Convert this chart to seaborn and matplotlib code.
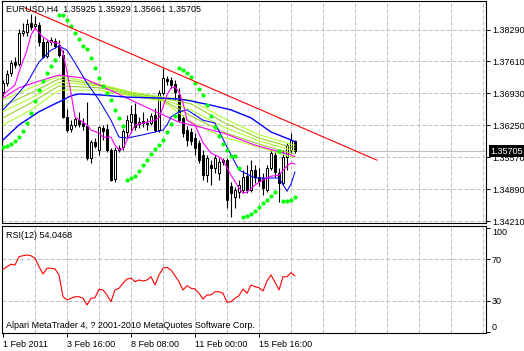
import matplotlib
matplotlib.use("Agg")
import matplotlib.pyplot as plt
import matplotlib.transforms as mtransforms
import numpy as np
import seaborn as sns

# ---------------- data ----------------
symbol_title = "EURUSD,H4  1.35925 1.35929 1.35661 1.35705"
rsi_title = "RSI(12) 54.0468"
footer = "Alpari MetaTrader 4, ? 2001-2010 MetaQuotes Software Corp."
x_tick_bars = [0, 16, 32, 48, 64]
x_tick_labels = ["1 Feb 2011", "3 Feb 16:00", "8 Feb 08:00", "11 Feb 00:00", "15 Feb 16:00"]
price_ticks = [1.34210, 1.34890, 1.35570, 1.36250, 1.36930, 1.37610, 1.38290]
rsi_ticks = [0, 30, 70, 100]
rsi_levels = [30, 70]
bid = 1.35705

opens = [1.3696, 1.3715, 1.3736, 1.3760, 1.3756, 1.3822, 1.3824, 1.3843, 1.3836, 1.3839,
         1.3802, 1.3773, 1.3802, 1.3805, 1.3796, 1.3775, 1.3643, 1.3617, 1.3626, 1.3636,
         1.3630, 1.3624, 1.3556, 1.3590, 1.3573, 1.3619, 1.3617, 1.3573, 1.3511, 1.3573,
         1.3579, 1.3611, 1.3632, 1.3649, 1.3628, 1.3634, 1.3630, 1.3630, 1.3647, 1.3615,
         1.3694, 1.3724, 1.3722, 1.3713, 1.3690, 1.3641, 1.3615, 1.3611, 1.3598, 1.3588,
         1.3562, 1.3519, 1.3541, 1.3534, 1.3524, 1.3551, 1.3551, 1.3496, 1.3473, 1.3483,
         1.3487, 1.3517, 1.3487, 1.3530, 1.3515, 1.3513, 1.3487, 1.3534, 1.3562, 1.3524,
         1.3502, 1.3558, 1.3573, 1.35925]
highs = [1.3722, 1.3743, 1.3764, 1.3770, 1.3830, 1.3843, 1.3851, 1.3862, 1.3858, 1.3845,
         1.3811, 1.3807, 1.3813, 1.3811, 1.3807, 1.3785, 1.3660, 1.3636, 1.3643, 1.3653,
         1.3641, 1.3675, 1.3594, 1.3598, 1.3624, 1.3626, 1.3628, 1.3577, 1.3579, 1.3583,
         1.3617, 1.3647, 1.3668, 1.3673, 1.3643, 1.3653, 1.3641, 1.3651, 1.3662, 1.3700,
         1.3747, 1.3730, 1.3728, 1.3722, 1.3705, 1.3647, 1.3624, 1.3619, 1.3609, 1.3594,
         1.3573, 1.3562, 1.3551, 1.3562, 1.3556, 1.3556, 1.3556, 1.3505, 1.3494, 1.3509,
         1.3530, 1.3541, 1.3551, 1.3541, 1.3534, 1.3524, 1.3541, 1.3573, 1.3568, 1.3534,
         1.3573, 1.3588, 1.3609, 1.35929]
lows = [1.3688, 1.3709, 1.3730, 1.3747, 1.3751, 1.3815, 1.3815, 1.3828, 1.3832, 1.3794,
        1.3768, 1.3768, 1.3796, 1.3790, 1.3770, 1.3641, 1.3611, 1.3611, 1.3622, 1.3622,
        1.3615, 1.3551, 1.3545, 1.3577, 1.3562, 1.3594, 1.3568, 1.3507, 1.3505, 1.3568,
        1.3573, 1.3600, 1.3609, 1.3615, 1.3619, 1.3622, 1.3615, 1.3626, 1.3611, 1.3611,
        1.3690, 1.3711, 1.3705, 1.3679, 1.3632, 1.3600, 1.3581, 1.3583, 1.3562, 1.3545,
        1.3509, 1.3505, 1.3498, 1.3524, 1.3509, 1.3541, 1.3449, 1.3430, 1.3449, 1.3470,
        1.3481, 1.3481, 1.3483, 1.3502, 1.3496, 1.3477, 1.3483, 1.3530, 1.3515, 1.3462,
        1.3498, 1.3530, 1.3566, 1.35661]
closes = [1.3715, 1.3734, 1.3758, 1.3753, 1.3822, 1.3826, 1.3841, 1.3834, 1.3841, 1.3802,
          1.3770, 1.3802, 1.3807, 1.3794, 1.3775, 1.3643, 1.3615, 1.3626, 1.3639, 1.3628,
          1.3624, 1.3556, 1.3590, 1.3581, 1.3622, 1.3613, 1.3573, 1.3509, 1.3573, 1.3577,
          1.3613, 1.3636, 1.3649, 1.3622, 1.3632, 1.3630, 1.3628, 1.3645, 1.3615, 1.3694,
          1.3726, 1.3719, 1.3711, 1.3696, 1.3636, 1.3609, 1.3594, 1.3592, 1.3577, 1.3551,
          1.3519, 1.3556, 1.3534, 1.3556, 1.3547, 1.3547, 1.3466, 1.3481, 1.3487, 1.3498,
          1.3515, 1.3487, 1.3530, 1.3515, 1.3507, 1.3492, 1.3534, 1.3566, 1.3526, 1.3502,
          1.3558, 1.3583, 1.3594, 1.35705]

sar = [1.3579, 1.3581, 1.3585, 1.3592, 1.3600, 1.3613, 1.3630, 1.3651, 1.3677, 1.3700,
       1.3719, 1.3737, 1.3751, 1.3764, 1.3860, 1.3860, 1.3849, 1.3836, 1.3822, 1.3809,
       1.3794, 1.3788, 1.3768, 1.3747, 1.3726, 1.3709, 1.3694, 1.3679, 1.3658, 1.3641,
       1.3624, 1.3509, 1.3513, 1.3517, 1.3528, 1.3541, 1.3551, 1.3564, 1.3575, 1.3583,
       1.3594, 1.3611, 1.3628, 1.3645, 1.3747, 1.3743, 1.3737, 1.3728, 1.3715, 1.3702,
       1.3690, 1.3668, 1.3645, 1.3622, 1.3603, 1.3585, 1.3573, 1.3560, 1.3560, 1.3534,
       1.3430, 1.3432, 1.3436, 1.3443, 1.3451, 1.3460, 1.3466, 1.3475, 1.3483, 1.3571,
       1.3464, 1.3464, 1.3466, 1.3473]

rsi = [60.4, 62.9, 65.2, 64.5, 72.5, 73.4, 74.1, 73.4, 71.0, 62.9,
       55.9, 61.4, 61.4, 60.7, 55.0, 34.1, 31.0, 32.6, 34.1, 34.1,
       32.6, 26.2, 32.6, 33.2, 41.2, 40.6, 35.8, 29.3, 40.6, 42.2,
       47.0, 51.1, 51.8, 48.5, 50.1, 49.2, 50.1, 53.3, 45.4, 55.0,
       61.4, 62.3, 59.7, 54.3, 48.5, 40.6, 44.7, 42.2, 41.5, 37.4,
       31.9, 35.8, 35.8, 38.9, 38.9, 37.4, 28.8, 29.3, 32.6, 35.1,
       41.5, 37.4, 45.4, 43.7, 42.8, 39.6, 49.2, 55.0, 48.0, 40.6,
       53.3, 53.3, 57.1, 54.05]

# moving averages read at sample bars
fast_blue_bars = [0, 3, 6, 9, 12, 14, 16, 18, 21, 24, 27, 29, 31, 35, 40, 41, 42, 44, 46,
                  48, 50, 53, 56, 59, 63, 69, 71, 72, 73]
fast_blue = [1.3658, 1.3685, 1.3715, 1.3760, 1.3785, 1.3794, 1.3785, 1.3758, 1.3715, 1.3679,
             1.3636, 1.3600, 1.3598, 1.3605, 1.3615, 1.3626, 1.3643, 1.3654, 1.3658,
             1.3647, 1.3636, 1.3630, 1.3579, 1.3530, 1.3513, 1.3513, 1.3485, 1.3500, 1.3526]
slow_blue_bars = [0, 4, 9, 13, 15, 17, 19, 24, 31, 40, 44, 47, 52, 55, 57, 62, 67, 72, 73]
slow_blue = [1.3594, 1.3626, 1.3654, 1.3671, 1.3679, 1.3688, 1.3692, 1.3690, 1.3685, 1.3683,
             1.3681, 1.3677, 1.3668, 1.3662, 1.3658, 1.3641, 1.3611, 1.3594, 1.3590]
mag_fast_bars = [0, 3, 4, 6, 7, 8, 10, 12, 14, 15, 16, 17, 18, 21, 22, 24, 25, 27, 28, 29,
                 30, 31, 32, 33, 36, 38, 39, 40, 41, 42, 43, 44, 45, 46, 48, 50, 52, 54, 55, 57,
                 59, 60, 61, 63, 65, 67, 69, 71, 72, 73]
mag_fast = [1.3690, 1.3711, 1.3739, 1.3785, 1.3817, 1.3832, 1.3813, 1.3802, 1.3800, 1.3779,
            1.3739, 1.3694, 1.3643, 1.3626, 1.3615, 1.3609, 1.3600, 1.3600, 1.3583, 1.3573,
            1.3575, 1.3594, 1.3609, 1.3626, 1.3632, 1.3636, 1.3641, 1.3664, 1.3690, 1.3704,
            1.3707, 1.3696, 1.3673, 1.3636, 1.3626, 1.3588, 1.3566, 1.3558, 1.3551, 1.3519,
            1.3492, 1.3481, 1.3483, 1.3498, 1.3509, 1.3517, 1.3519, 1.3539, 1.3545, 1.3543]
mag_slow_bars = [0, 4, 10, 14, 20, 24, 32, 39, 44, 49, 55, 63, 72, 73]
mag_slow = [1.3683, 1.3705, 1.3722, 1.3732, 1.3726, 1.3711, 1.3679, 1.3651, 1.3632, 1.3622,
            1.3609, 1.3583, 1.3562, 1.3558]
ribbon_bars = [0, 7, 14, 24, 32, 40, 47, 55, 64, 72, 73]
ribbon_1 = [1.3679, 1.3705, 1.3730, 1.3713, 1.3696, 1.3685, 1.3679, 1.3641, 1.3605, 1.3585, 1.3583]
ribbon_2 = [1.3666, 1.3694, 1.3724, 1.3711, 1.3694, 1.3683, 1.3671, 1.3632, 1.3598, 1.3579, 1.3577]
ribbon_3 = [1.3654, 1.3683, 1.3717, 1.3709, 1.3692, 1.3681, 1.3658, 1.3622, 1.3592, 1.3573, 1.3571]
ribbon_4 = [1.3641, 1.3673, 1.3709, 1.3705, 1.3690, 1.3679, 1.3645, 1.3611, 1.3585, 1.3566, 1.3564]
ribbon_5 = [1.3626, 1.3658, 1.3700, 1.3700, 1.3688, 1.3677, 1.3632, 1.3600, 1.3579, 1.3558, 1.3556]

trend_bars = [5.5, 93.5]
trend_prices = [1.3875, 1.3551]

# ---------------- figure ----------------
sns.set_theme(style="white")
plt.rcParams['font.family'] = ['Liberation Sans', 'DejaVu Sans']
plt.rcParams['font.size'] = 6.5
plt.rcParams['text.color'] = 'black'

W, H = 524, 351
fig = plt.figure(figsize=(W / 100, H / 100), dpi=100)
fig.patch.set_facecolor('white')
ax = fig.add_axes([2 / W, 1 - 223 / H, 484 / W, 222 / H])
ax2 = fig.add_axes([2 / W, 1 - 333 / H, 484 / W, 107 / H])

grid_kw = dict(color='#C0C0C0', lw=0.72, ls=(0, (4, 2)), zorder=0.5)
for gx in range(8, 121, 8):
    ax.axvline(gx, **grid_kw)
    ax2.axvline(gx, **grid_kw)
for gy in price_ticks:
    ax.axhline(gy, **grid_kw)
for gy in rsi_levels:
    ax2.axhline(gy, **grid_kw)

ax.axhline(bid, color='#C0C0C0', lw=0.8, zorder=0.8)

# candles
idx = np.arange(len(closes))
o = np.array(opens); c = np.array(closes); h = np.array(highs); l = np.array(lows)
ax.vlines(idx, l, h, colors='black', lw=0.8, zorder=2)
bottoms = np.minimum(o, c)
heights = np.maximum(np.abs(c - o), 0.00003)
faces = ['white' if cc >= oo else 'black' for oo, cc in zip(o, c)]
ax.bar(idx, heights, bottom=bottoms, width=0.5, color=faces, edgecolor='black',
       linewidth=0.72, zorder=2.1)

# indicators
ribbon_cols = ['#ADFF2F', '#9ACD32', '#ADFF2F', '#9ACD32', '#ADFF2F']
for vals, col in zip([ribbon_1, ribbon_2, ribbon_3, ribbon_4, ribbon_5], ribbon_cols):
    sns.lineplot(x=ribbon_bars, y=vals, ax=ax, color=col, linewidth=0.8, legend=False, zorder=3)
sns.lineplot(x=mag_slow_bars, y=mag_slow, ax=ax, color='#FF00FF', linewidth=0.8, legend=False, zorder=3.1)
sns.lineplot(x=slow_blue_bars, y=slow_blue, ax=ax, color='#0000FF', linewidth=1.0, legend=False, zorder=3.2)
sns.lineplot(x=fast_blue_bars, y=fast_blue, ax=ax, color='#0000FF', linewidth=0.75, legend=False, zorder=3.3)
sns.lineplot(x=mag_fast_bars, y=mag_fast, ax=ax, color='#FF00FF', linewidth=0.8, legend=False, zorder=3.4)
sns.scatterplot(x=idx, y=sar, ax=ax, color='#00FF00', s=9, marker='o', linewidth=0,
                legend=False, zorder=4)
sns.lineplot(x=trend_bars, y=trend_prices, ax=ax, color='#FF0000', linewidth=0.8, legend=False, zorder=4.5)

# RSI
sns.lineplot(x=idx, y=rsi, ax=ax2, color='#FF0000', linewidth=0.8, legend=False, zorder=3)

for a in (ax, ax2):
    a.set_facecolor('white')
    a.set_xlim(-0.25, 120.75)
    a.set_xlabel('')
    a.set_ylabel('')
    for s in a.spines.values():
        s.set_color('black')
        s.set_linewidth(0.8)
    a.yaxis.tick_right()
ax.set_ylim(1.34173, 1.38897)
ax2.set_ylim(-0.7, 101.9)

ax.set_xticks([])
ax.set_yticks(price_ticks)
ax.set_yticklabels([f"{p:.5f}" for p in price_ticks])
ax.tick_params(axis='y', direction='out', length=3, width=0.72, pad=1.2,
               labelsize=6.5, colors='black', right=True, left=False)

ax2.set_yticks(rsi_ticks)
ax2.set_yticklabels([str(v) for v in rsi_ticks])
ax2.tick_params(axis='y', direction='out', length=3, width=0.72, pad=1.2,
                labelsize=6.5, colors='black', right=True, left=False)
for lab, v in zip(ax2.get_yticklabels(), rsi_ticks):
    if v == 100:
        lab.set_va('top')
    elif v == 0:
        lab.set_va('bottom')
ax2.set_xticks(x_tick_bars)
ax2.set_xticklabels(x_tick_labels, ha='left')
ax2.tick_params(axis='x', direction='out', length=3, width=0.72, pad=2,
                labelsize=6.5, colors='black', bottom=True)

# texts
ax.text(4 / 484, 1 - 8 / 222, symbol_title, transform=ax.transAxes, va='center',
        ha='left', fontsize=6.5, color='black', zorder=6)
ax2.text(4 / 484, 1 - 9 / 107, rsi_title, transform=ax2.transAxes, va='center',
         ha='left', fontsize=6.5, color='black')
ax2.text(4 / 484, 1 - 100 / 107, footer, transform=ax2.transAxes, va='center',
         ha='left', fontsize=6.5, color='black')

trans = mtransforms.blended_transform_factory(ax.transAxes, ax.transData)
ax.text(1 + 4 / 484, bid, f"{bid:.5f}", transform=trans, color='white', fontsize=6.5,
        va='center', ha='left', zorder=10, clip_on=False,
        bbox=dict(boxstyle='square,pad=0.12', fc='black', ec='none'))

fig.savefig('out.png', dpi=100, facecolor='white')
